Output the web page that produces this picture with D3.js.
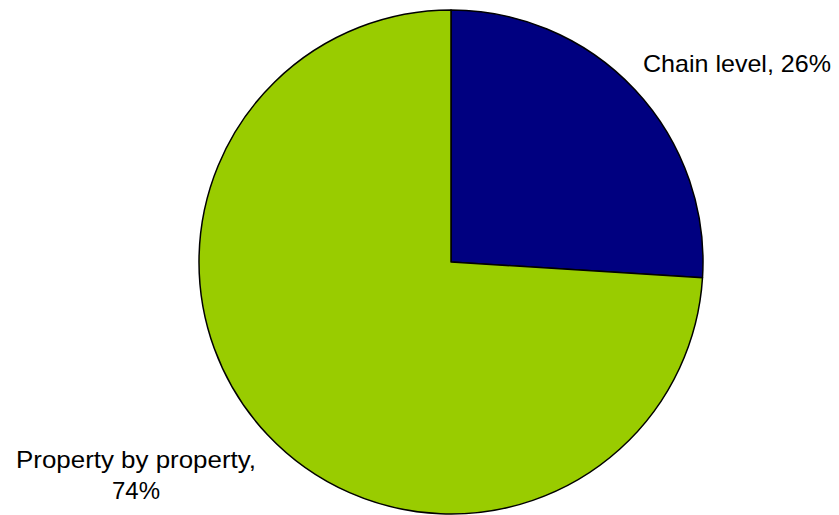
<!DOCTYPE html>
<html><head><meta charset="utf-8">
<script src="https://cdn.jsdelivr.net/npm/d3@7"></script>
<style>html,body{margin:0;padding:0;background:#fff;}svg{display:block;}</style>
</head><body>
<svg id="chart" width="839" height="515"></svg>
<script>
const categories = ["Chain level", "Property by property"];
const values = [26, 74];
const colors = ["#000080", "#99CC00"];
const labelLines = [["Chain level, 26%"], ["Property by property,", "74%"]];

const svg = d3.select("#chart");
const cx = 451, cy = 262, r = 252;
const g = svg.append("g").attr("transform", `translate(${cx},${cy})`);
const pie = d3.pie().sort(null).value(d => d)(values);
const arc = d3.arc().innerRadius(0).outerRadius(r);
g.selectAll("path").data(pie).join("path")
  .attr("d", arc)
  .attr("fill", (d, i) => colors[i])
  .attr("stroke", "#000").attr("stroke-width", 1.5).attr("stroke-linejoin", "round");

const labelPos = [
  {x: 643, y: 72, anchor: "start", widths: [188]},
  {x: 136, y: 468, anchor: "middle", widths: [240, null]}
];
labelLines.forEach((lines, i) => {
  const p = labelPos[i];
  lines.forEach((l, j) => {
    const t = svg.append("text")
      .attr("x", p.x).attr("y", p.y + j * 31)
      .attr("text-anchor", p.anchor)
      .attr("font-family", "Liberation Sans, Arial, sans-serif")
      .attr("font-size", 24).attr("fill", "#000")
      .text(l);
    if (p.widths[j]) t.attr("textLength", p.widths[j]).attr("lengthAdjust", "spacingAndGlyphs");
  });
});
</script>
</body></html>
